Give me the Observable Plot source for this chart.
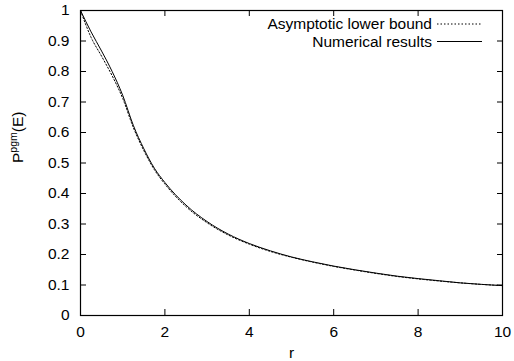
<!DOCTYPE html>
<html><head><meta charset="utf-8">
<script src="https://cdn.jsdelivr.net/npm/d3@7"></script>
<script src="https://cdn.jsdelivr.net/npm/@observablehq/plot@0.6"></script>
<style>
body{margin:0;background:#fff}
#chart svg{font-family:"Liberation Sans",Arial,sans-serif}
</style>
</head><body><div id="chart"></div>
<script>
const r = [0,0.25,0.5,0.75,1,1.25,1.5,1.75,2,2.5,3,3.5,4,4.5,5,5.5,6,6.5,7,7.5,8,8.5,9,9.5,10];
const numerical = [1.0,0.93,0.867,0.80,0.722,0.624,0.547,0.483,0.436,0.362,0.308,0.267,0.236,0.212,0.192,0.176,0.162,0.150,0.139,0.129,0.121,0.114,0.107,0.102,0.098];
const asymptotic = [1.0,0.912,0.850,0.786,0.712,0.617,0.541,0.478,0.431,0.357,0.304,0.264,0.234,0.210,0.191,0.175,0.161,0.149,0.138,0.128,0.120,0.113,0.107,0.102,0.098];
const xTicks = [0,2,4,6,8,10];
const yTicks = [0,0.1,0.2,0.3,0.4,0.5,0.6,0.7,0.8,0.9,1];
const seriesNames = ["Asymptotic lower bound","Numerical results"];
const xLabel = "r";

const numRows = r.map((x,i)=>({r:x,p:numerical[i]}));
const asyRows = r.map((x,i)=>({r:x,p:asymptotic[i]}));
const blank = () => "";
const FS = 15.5;

const chart = Plot.plot({
  width: 514, height: 361,
  marginLeft: 80, marginRight: 12, marginTop: 10, marginBottom: 46,
  style: {fontFamily: '"Liberation Sans",Arial,sans-serif', fontSize: FS + "px", color: "black", background: "white"},
  x: {domain: [0,10]},
  y: {domain: [0,1]},
  marks: [
    Plot.axisX(xTicks, {anchor: "bottom", tickSize: -6, tickPadding: 16, label: null, tickFormat: d => String(d)}),
    Plot.axisX(xTicks, {anchor: "top", tickSize: -5, label: null, tickFormat: blank}),
    Plot.axisY(yTicks, {anchor: "left", tickSize: -6, tickPadding: 17, label: null, tickFormat: d => String(d)}),
    Plot.axisY(yTicks, {anchor: "right", tickSize: -6, label: null, tickFormat: blank}),
    Plot.line(asyRows, {x: "r", y: "p", stroke: "black", strokeWidth: 1, strokeDasharray: "1.5,2", curve: "monotone-x"}),
    Plot.line(numRows, {x: "r", y: "p", stroke: "black", strokeWidth: 1, curve: "monotone-x"}),
    Plot.frame({stroke: "black", strokeWidth: 1.2}),
    Plot.text([xLabel], {frameAnchor: "bottom", dy: 42, lineAnchor: "bottom", fontSize: FS}),
    Plot.text(["P"], {frameAnchor: "left", dx: -62, rotate: -90, fontSize: FS, className: "ylab"})
  ]
});
document.getElementById("chart").appendChild(chart);

// y label with superscript
const svg = d3.select(chart);
const yl = svg.select(".ylab text");
yl.text(null);
yl.append("tspan").text("P");
yl.append("tspan").attr("font-size", 10.5).attr("dy", -6).text("pgm");
yl.append("tspan").attr("dy", 6).text("(E)");

// legend
const leg = svg.append("g").attr("font-size", FS).attr("font-family", '"Liberation Sans",Arial,sans-serif');
const legY = [24, 41.5];
seriesNames.forEach((name, i) => {
  leg.append("text").attr("x", 432).attr("y", legY[i]).attr("dy", "0.35em").attr("text-anchor", "end").text(name);
  leg.append("line").attr("x1", 437).attr("x2", 482).attr("y1", legY[i]).attr("y2", legY[i])
    .attr("stroke", "black").attr("stroke-width", 1)
    .attr("stroke-dasharray", i === 0 ? "1.5,2" : null);
});
</script>
</body></html>
